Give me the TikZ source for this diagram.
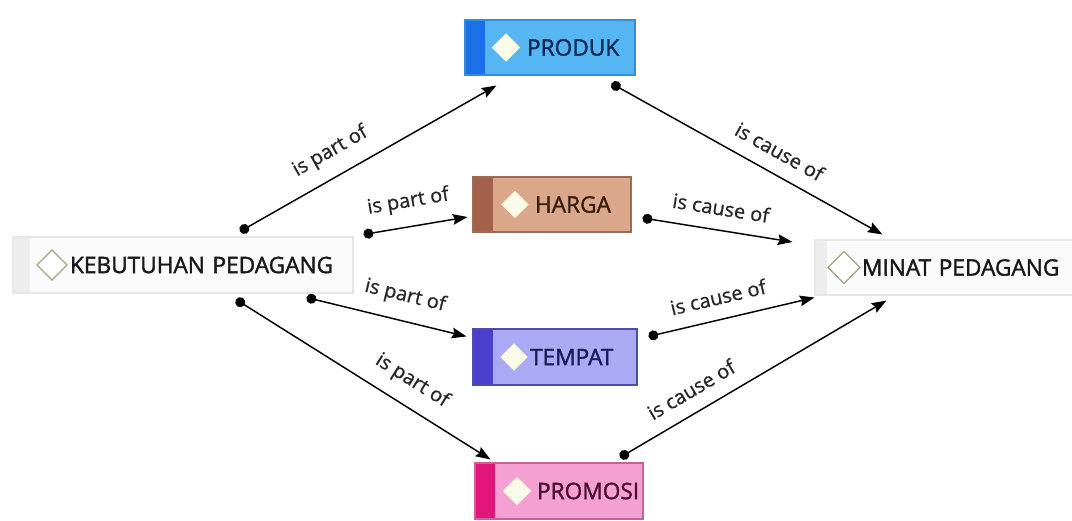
\documentclass[tikz,border=0pt]{standalone}
\usepackage{fontspec}
\setmainfont{Open Sans}
\newfontfamily\nodefont[FakeBold=1.6]{Open Sans}
\newfontfamily\labfont[FakeBold=0.8]{Open Sans}
\usetikzlibrary{arrows.meta,calc}
\definecolor{kebfill}{HTML}{FBFBFB}
\definecolor{kebdraw}{HTML}{E6E6E6}
\definecolor{kebstrip}{HTML}{EDEDED}
\definecolor{prodfill}{HTML}{56B6F4}
\definecolor{proddraw}{HTML}{2F8FD8}
\definecolor{prodstrip}{HTML}{1C6FE8}
\definecolor{prodtext}{HTML}{0D2A55}
\definecolor{hargafill}{HTML}{DBA78B}
\definecolor{hargadraw}{HTML}{9C6A55}
\definecolor{hargastrip}{HTML}{A3614B}
\definecolor{hargatext}{HTML}{3B1E10}
\definecolor{tempfill}{HTML}{A9A9F4}
\definecolor{tempdraw}{HTML}{4E4EA8}
\definecolor{tempstrip}{HTML}{4B3FCF}
\definecolor{temptext}{HTML}{1B1B55}
\definecolor{promfill}{HTML}{F5A0D2}
\definecolor{promdraw}{HTML}{C8609A}
\definecolor{promstrip}{HTML}{E3157D}
\definecolor{promtext}{HTML}{4A1035}
\definecolor{diamline}{HTML}{9AAA80}
\definecolor{diamfill}{HTML}{FBFBEA}
\definecolor{labtext}{HTML}{262626}
\tikzset{
  box/.style={rectangle, draw, line width=0.8pt, inner xsep=0pt, inner ysep=0pt,
    align=left, font=\nodefont\fontsize{17}{20}\selectfont},
  deco/.style n args={5}{path picture={
    \fill[#1] (path picture bounding box.south west) rectangle ([xshift=#2]path picture bounding box.north west);
    \draw[#5] ([xshift=#3]path picture bounding box.west) +(-#4,0pt) -- +(0pt,#4) -- +(#4,0pt) -- +(0pt,-#4) -- cycle;
  }},
  plaindiam/.style={fill=white, draw=diamline, line width=0.9pt},
  colordiam/.style={fill=diamfill, draw=white!85!yellow, line width=0.9pt},
  link/.style={line width=1.1pt, black, {Circle[length=7.5pt]}-{Stealth[length=11pt,width=8pt,inset=1.5pt]}},
  lab/.style={sloped, above=10.5pt, inner sep=0pt, text=labtext, font=\labfont\fontsize{15}{17}\selectfont}
}
\begin{document}
\begin{tikzpicture}[x=0.75pt,y=-0.75pt]
\useasboundingbox (0,0) rectangle (1072,521);
% nodes
\node[box, fill=kebfill, draw=kebdraw, text width=255pt, minimum height=42pt, text=black!90,
  deco={kebstrip}{12.75pt}{29.25pt}{11.25pt}{plaindiam}] (keb) at (183,265) {\hspace*{42.75pt}\mbox{KEBUTUHAN PEDAGANG}};
\node[box, fill=kebfill, draw=kebdraw, text width=195pt, minimum height=41.25pt, text=black!90,
  deco={kebstrip}{9pt}{21.75pt}{12pt}{plaindiam}] (minat) at (945,267.5) {\hspace*{35.25pt}\mbox{MINAT PEDAGANG}};
\node[box, fill=prodfill, draw=proddraw, text width=127.5pt, minimum height=41.25pt, text=prodtext,
  deco={prodstrip}{15pt}{30.75pt}{10pt}{colordiam}] (produk) at (550,47.5) {\hspace*{46.5pt}\mbox{PRODUK}};
\node[box, fill=hargafill, draw=hargadraw, text width=118.5pt, minimum height=41.25pt, text=hargatext,
  deco={hargastrip}{15pt}{31.5pt}{9.6pt}{colordiam}] (harga) at (552,204.5) {\hspace*{46.5pt}\mbox{HARGA}};
\node[box, fill=tempfill, draw=tempdraw, text width=123pt, minimum height=42pt, text=temptext,
  deco={tempstrip}{15pt}{30.75pt}{9.6pt}{colordiam}] (tempat) at (555,357) {\hspace*{42.75pt}\mbox{TEMPAT}};
\node[box, fill=promfill, draw=promdraw, text width=126pt, minimum height=42pt, text=promtext,
  deco={promstrip}{15pt}{31.5pt}{10pt}{colordiam}] (promosi) at (559,491) {\hspace*{46.5pt}\mbox{PROMOSI}};
% connectors
\draw[link] ($(keb.north)+(57,-5)$) -- node[lab, pos=.4]{is part of} ($(produk.south west)+(32,10)$);
\draw[link] ($(keb.north east)+(10,-2)$) -- node[lab, pos=.47]{is part of} ($(harga.west)+(-5,12.5)$);
\draw[link] ($(keb.south east)+(-47,4)$) -- node[lab, pos=.58]{is part of} ($(tempat.north west)+(-6,8)$);
\draw[link] ($(keb.south)+(53,6)$) -- node[lab, pos=.64]{is part of} ($(promosi.north west)+(16,-3)$);
\draw[link] ($(produk.south east)+(-24,8)$) -- node[lab, pos=.58]{is cause of} ($(minat.north west)+(68,-5)$);
\draw[link] ($(harga.east)+(11,13.5)$) -- node[lab, pos=.5]{is cause of} ($(minat.west)+(-22,-25.5)$);
\draw[link] ($(tempat.north east)+(11,8)$) -- node[lab, pos=.45]{is cause of} ($(minat.south west)+(0,2)$);
\draw[link] ($(promosi.north)+(61,-5)$) -- node[lab, pos=.31]{is cause of} ($(minat.south west)+(72,5)$);
\end{tikzpicture}
\end{document}
